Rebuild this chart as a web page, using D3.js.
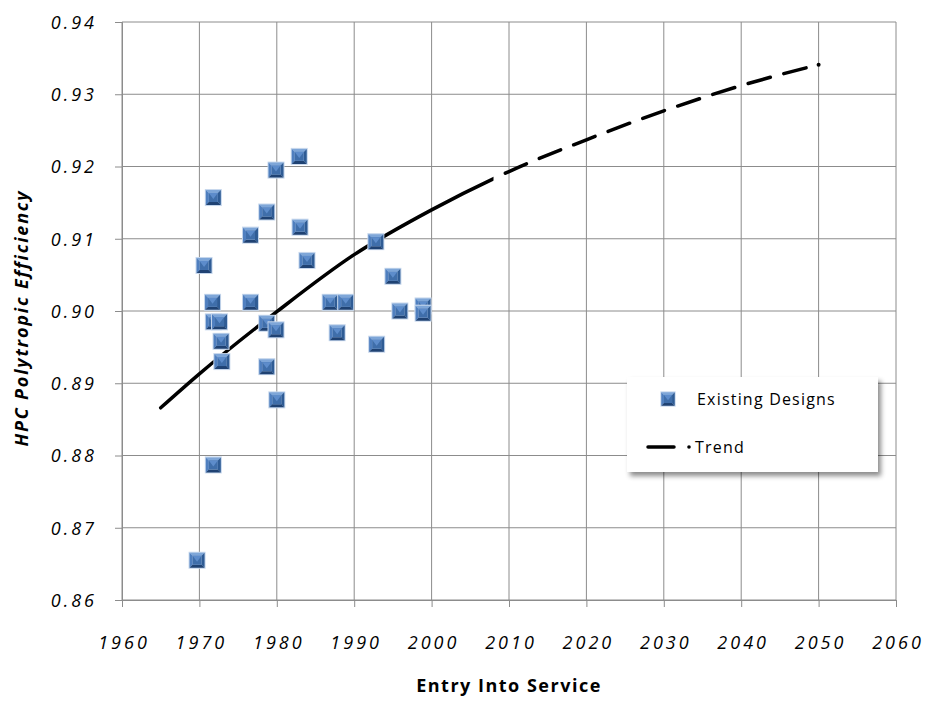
<!DOCTYPE html>
<html>
<head>
<meta charset="utf-8">
<script src="https://d3js.org/d3.v7.min.js"></script>
<style>
  body { margin: 0; background: #fff; }
  svg text { font-family: "Segoe Print", "Comic Sans MS", "Open Sans", sans-serif; fill: #000; }
</style>
</head>
<body>
<div id="chart"></div>
<script>
// existing designs (entry into service year, HPC polytropic efficiency)
var designYears = [1969.7, 1970.6, 1971.8, 1971.7, 1971.8, 1972.6, 1972.8, 1972.9, 1971.8, 1976.6,
                   1976.6, 1978.7, 1979.9, 1982.9, 1983.0, 1983.9, 1978.7, 1979.9, 1978.7, 1980.0,
                   1986.9, 1988.9, 1987.8, 1992.8, 1995.0, 1995.9, 1998.9, 1998.9, 1992.9];
var designEff = [0.8655, 0.9063, 0.9157, 0.9012, 0.8985, 0.8985, 0.8958, 0.8930, 0.8787, 0.9012,
                 0.9105, 0.9137, 0.9195, 0.9214, 0.9116, 0.9070, 0.8983, 0.8974, 0.8923, 0.8877,
                 0.9012, 0.9012, 0.8970, 0.9096, 0.9048, 0.9000, 0.9007, 0.8997, 0.8954];

// trend curve
var trendYears = [1965, 1970, 1980, 1990, 2000, 2010, 2020, 2030, 2040, 2050];
var trendEff = [0.8866, 0.8913, 0.8999, 0.9078, 0.9140, 0.9193, 0.9237, 0.9277, 0.9312, 0.9341];
var trendSolidEnd = 2008;

var xTicks = d3.range(1960, 2061, 10);
var yTicks = [0.86, 0.87, 0.88, 0.89, 0.90, 0.91, 0.92, 0.93, 0.94];

(function () {
  var margin = { top: 22, left: 122, right: 34, bottom: 106 },
      width = 930 - margin.left - margin.right,
      height = 706 - margin.top - margin.bottom;

  var root = d3.select("#chart")
    .append("svg")
    .attr("width", width + margin.left + margin.right)
    .attr("height", height + margin.top + margin.bottom);

  var defs = root.append("defs");
  var shadow = defs.append("filter").attr("id", "shadow")
    .attr("x", "-10%").attr("y", "-10%").attr("width", "130%").attr("height", "140%");
  shadow.append("feDropShadow").attr("dx", 3).attr("dy", 4)
    .attr("stdDeviation", 2.5).attr("flood-color", "#000").attr("flood-opacity", 0.45);

  var svg = root.append("g")
    .attr("transform", "translate(" + margin.left + "," + margin.top + ")");

  var xPositionScale = d3.scaleLinear().domain([1960, 2060]).range([0, width]);
  var yPositionScale = d3.scaleLinear().domain([0.86, 0.94]).range([height, 0]);

  // grid
  svg.selectAll(".vgrid").data(xTicks).enter().append("line")
    .attr("x1", function (d) { return xPositionScale(d); })
    .attr("x2", function (d) { return xPositionScale(d); })
    .attr("y1", 0).attr("y2", height)
    .attr("stroke", "#8c8c8c").attr("stroke-width", 1);
  svg.selectAll(".hgrid").data(yTicks).enter().append("line")
    .attr("x1", 0).attr("x2", width)
    .attr("y1", function (d) { return yPositionScale(d); })
    .attr("y2", function (d) { return yPositionScale(d); })
    .attr("stroke", "#8c8c8c").attr("stroke-width", 1);

  // axes
  var xAxis = d3.axisBottom(xPositionScale).tickValues(xTicks).tickSize(7).tickPadding(29)
    .tickFormat(d3.format("d"));
  var xg = svg.append("g").attr("transform", "translate(0," + height + ")").call(xAxis);
  var yAxis = d3.axisLeft(yPositionScale).tickValues(yTicks).tickSize(7).tickPadding(21)
    .tickFormat(d3.format(".2f"));
  var yg = svg.append("g").call(yAxis);

  [xg, yg].forEach(function (g) {
    g.select(".domain").attr("stroke", "#8c8c8c");
    g.selectAll(".tick line").attr("stroke", "#8c8c8c");
    g.selectAll("text").attr("font-size", 18).attr("letter-spacing", 3)
      .style("font-family", '"Segoe Print", "Comic Sans MS", "Open Sans", sans-serif')
      .attr("font-style", "italic");
  });
  xg.selectAll("text").attr("dx", 1.5);
  yg.selectAll("text").attr("dy", "0.35em").attr("dx", 3);

  // trend line
  var line = d3.line()
    .x(function (d, i) { return xPositionScale(trendYears[i]); })
    .y(function (d) { return yPositionScale(d); })
    .curve(d3.curveMonotoneX);

  var cut = xPositionScale(trendSolidEnd);
  defs.append("clipPath").attr("id", "clipSolid").append("rect")
    .attr("x", -10).attr("y", -margin.top).attr("width", cut + 10).attr("height", 706);
  defs.append("clipPath").attr("id", "clipDash").append("rect")
    .attr("x", cut).attr("y", -margin.top).attr("width", 930).attr("height", 706);

  var tl = svg.append("g");
  tl.append("path").datum(trendEff)
    .attr("d", line).attr("fill", "none").attr("stroke", "#000")
    .attr("stroke-width", 3.5).attr("stroke-linecap", "round")
    .attr("clip-path", "url(#clipSolid)");
  tl.append("path").datum(trendEff)
    .attr("d", line).attr("fill", "none").attr("stroke", "#000")
    .attr("stroke-width", 3.5).attr("stroke-linecap", "round")
    .attr("clip-path", "url(#clipDash)")
    .each(function () {
      // dash pattern after the solid part
      var len = this.getTotalLength();
      var lo = 0, hi = len;
      for (var k = 0; k < 30; k++) {
        var mid = (lo + hi) / 2;
        if (this.getPointAtLength(mid).x < cut) lo = mid; else hi = mid;
      }
      var pat = [0, lo + 13];
      var pos = lo + 13;
      while (pos + 37 < len - 10) { pat.push(23, 14); pos += 37; }
      pat.push(23, 400);
      d3.select(this).attr("stroke-dasharray", pat.join(" "));
    });
  // the dot at the end of the trend
  var last = trendYears.length - 1;
  tl.append("circle")
    .attr("cx", xPositionScale(trendYears[last]))
    .attr("cy", yPositionScale(trendEff[last]))
    .attr("r", 2).attr("fill", "#000");

  // marker with bevel look
  function marker(g) {
    var s = 7.5, t = 3;
    g.append("rect").attr("x", -s - 1).attr("y", -s - 1).attr("width", 2 * s + 2).attr("height", 2 * s + 2)
      .attr("fill", "#c5d6ec");
    g.append("path").attr("d", "M" + (-s) + "," + (-s) + "H" + s + "L" + (s - t) + "," + (-s + t) + "H" + (-s + t) + "Z")
      .attr("fill", "#7ea6d8");
    g.append("path").attr("d", "M" + (-s) + "," + (-s) + "V" + s + "L" + (-s + t) + "," + (s - t) + "V" + (-s + t) + "Z")
      .attr("fill", "#4f7fbf");
    g.append("path").attr("d", "M" + s + "," + (-s) + "V" + s + "L" + (s - t) + "," + (s - t) + "V" + (-s + t) + "Z")
      .attr("fill", "#2f5c95");
    g.append("path").attr("d", "M" + (-s) + "," + s + "H" + s + "L" + (s - t) + "," + (s - t) + "H" + (-s + t) + "Z")
      .attr("fill", "#1f4273");
    g.append("rect").attr("x", -s + t).attr("y", -s + t).attr("width", 2 * (s - t)).attr("height", 2 * (s - t))
      .attr("fill", "#3f6eaa");
    g.append("path").attr("d", "M" + (-s + t) + "," + (-s + t) + "L0,1.5L" + (s - t) + "," + (-s + t) + "Z")
      .attr("fill", "#5d8ccb");
  }

  svg.selectAll(".design")
    .data(designYears)
    .enter().append("g")
    .attr("class", "design")
    .attr("transform", function (d, i) {
      return "translate(" + xPositionScale(d) + "," + yPositionScale(designEff[i]) + ")";
    })
    .each(function () { marker(d3.select(this)); });

  // axis titles
  root.append("text")
    .attr("x", margin.left + width / 2).attr("y", 692)
    .attr("text-anchor", "middle").attr("font-size", 18).attr("font-weight", "bold")
    .attr("letter-spacing", 1.5)
    .text("Entry Into Service");
  root.append("text")
    .attr("transform", "translate(28," + (margin.top + height / 2 + 7) + ") rotate(-90)")
    .attr("text-anchor", "middle").attr("font-size", 18).attr("font-weight", "bold")
    .attr("font-style", "italic").attr("letter-spacing", 1.8)
    .text("HPC Polytropic Efficiency");

  // legend
  var lg = root.append("g").attr("transform", "translate(627,377)");
  lg.append("rect").attr("width", 251).attr("height", 95)
    .attr("fill", "#fff").attr("filter", "url(#shadow)");
  marker(lg.append("g").attr("transform", "translate(41,22) scale(0.9)"));
  lg.append("text").attr("x", 70).attr("y", 28).attr("font-size", 16).attr("letter-spacing", 1.2)
    .text("Existing Designs");
  lg.append("line").attr("x1", 21).attr("x2", 47).attr("y1", 70).attr("y2", 70)
    .attr("stroke", "#000").attr("stroke-width", 3.5).attr("stroke-linecap", "round");
  lg.append("circle").attr("cx", 62).attr("cy", 70).attr("r", 1.8).attr("fill", "#000");
  lg.append("text").attr("x", 68).attr("y", 76).attr("font-size", 16).attr("letter-spacing", 1.2)
    .text("Trend");
})();
</script>
</body>
</html>
